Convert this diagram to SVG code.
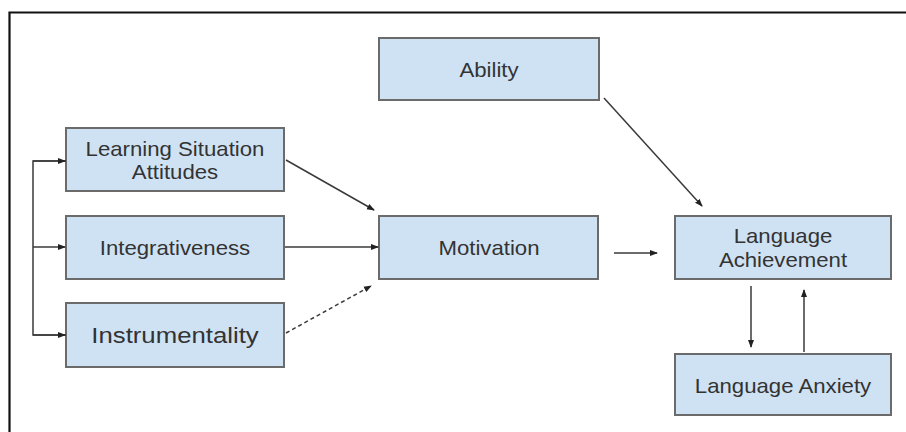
<svg xmlns="http://www.w3.org/2000/svg" width="906" height="432" viewBox="0 0 906 432">
<defs>
<style>
.box{fill:#cfe2f3;stroke:#6b6b6b;stroke-width:2}
.t{font-family:"Liberation Sans",Arial,sans-serif;font-size:20px;fill:#333;text-anchor:middle}
.c{stroke:#3a3a3a;stroke-width:1.5;fill:none;marker-end:url(#ah)}
.d{stroke-dasharray:4 3}
</style>
<marker id="ah" markerUnits="userSpaceOnUse" markerWidth="8" markerHeight="8" viewBox="0 0 8 8" refX="7" refY="4" orient="auto">
<path d="M0,1 L8,4 L0,7 Z" fill="#222"/>
</marker>
</defs>
<rect width="906" height="432" fill="#fff"/>
<path d="M9.5,432 V12.5 H906" fill="none" stroke="#111" stroke-width="2.2"/>

<g id="ability"><rect class="box" x="379" y="38" width="220" height="62"/><text class="t" transform="translate(489,77) scale(1.11,1)">Ability</text></g>
<g id="lsa"><rect class="box" x="66" y="128" width="218" height="63"/><text class="t" transform="translate(175,156) scale(1.11,1)">Learning Situation</text><text class="t" transform="translate(175,179) scale(1.11,1)">Attitudes</text></g>
<g id="integ"><rect class="box" x="66" y="216" width="218" height="63"/><text class="t" transform="translate(175,255) scale(1.11,1)">Integrativeness</text></g>
<g id="instr"><rect class="box" x="66" y="303" width="218" height="64"/><text class="t" transform="translate(175,343) scale(1.12,1)" style="font-size:23px">Instrumentality</text></g>
<g id="motivation"><rect class="box" x="379" y="216" width="219" height="63"/><text class="t" transform="translate(489,255) scale(1.11,1)">Motivation</text></g>
<g id="achievement"><rect class="box" x="675" y="216" width="216" height="63"/><text class="t" transform="translate(783,243) scale(1.11,1)">Language</text><text class="t" transform="translate(783,267) scale(1.11,1)">Achievement</text></g>
<g id="anxiety"><rect class="box" x="675" y="354" width="216" height="61"/><text class="t" transform="translate(783,393) scale(1.11,1)">Language Anxiety</text></g>

<g id="connectors">
<path d="M66,161 H33 V335 H66" fill="none" stroke="#3a3a3a" stroke-width="1.5"/>
<path class="c" d="M33,161 H65"/>
<path class="c" d="M33,247 H65"/>
<path class="c" d="M33,335 H65"/>
<path class="c" d="M286,160 L374,210"/>
<path class="c" d="M285,247 H378"/>
<path class="c d" d="M286,333 L371,286"/>
<path class="c" d="M614,253 H657"/>
<path class="c" d="M604,98 L702,206"/>
<path class="c" d="M751,286 V347"/>
<path class="c" d="M804,352 V290"/>
</g>
</svg>
